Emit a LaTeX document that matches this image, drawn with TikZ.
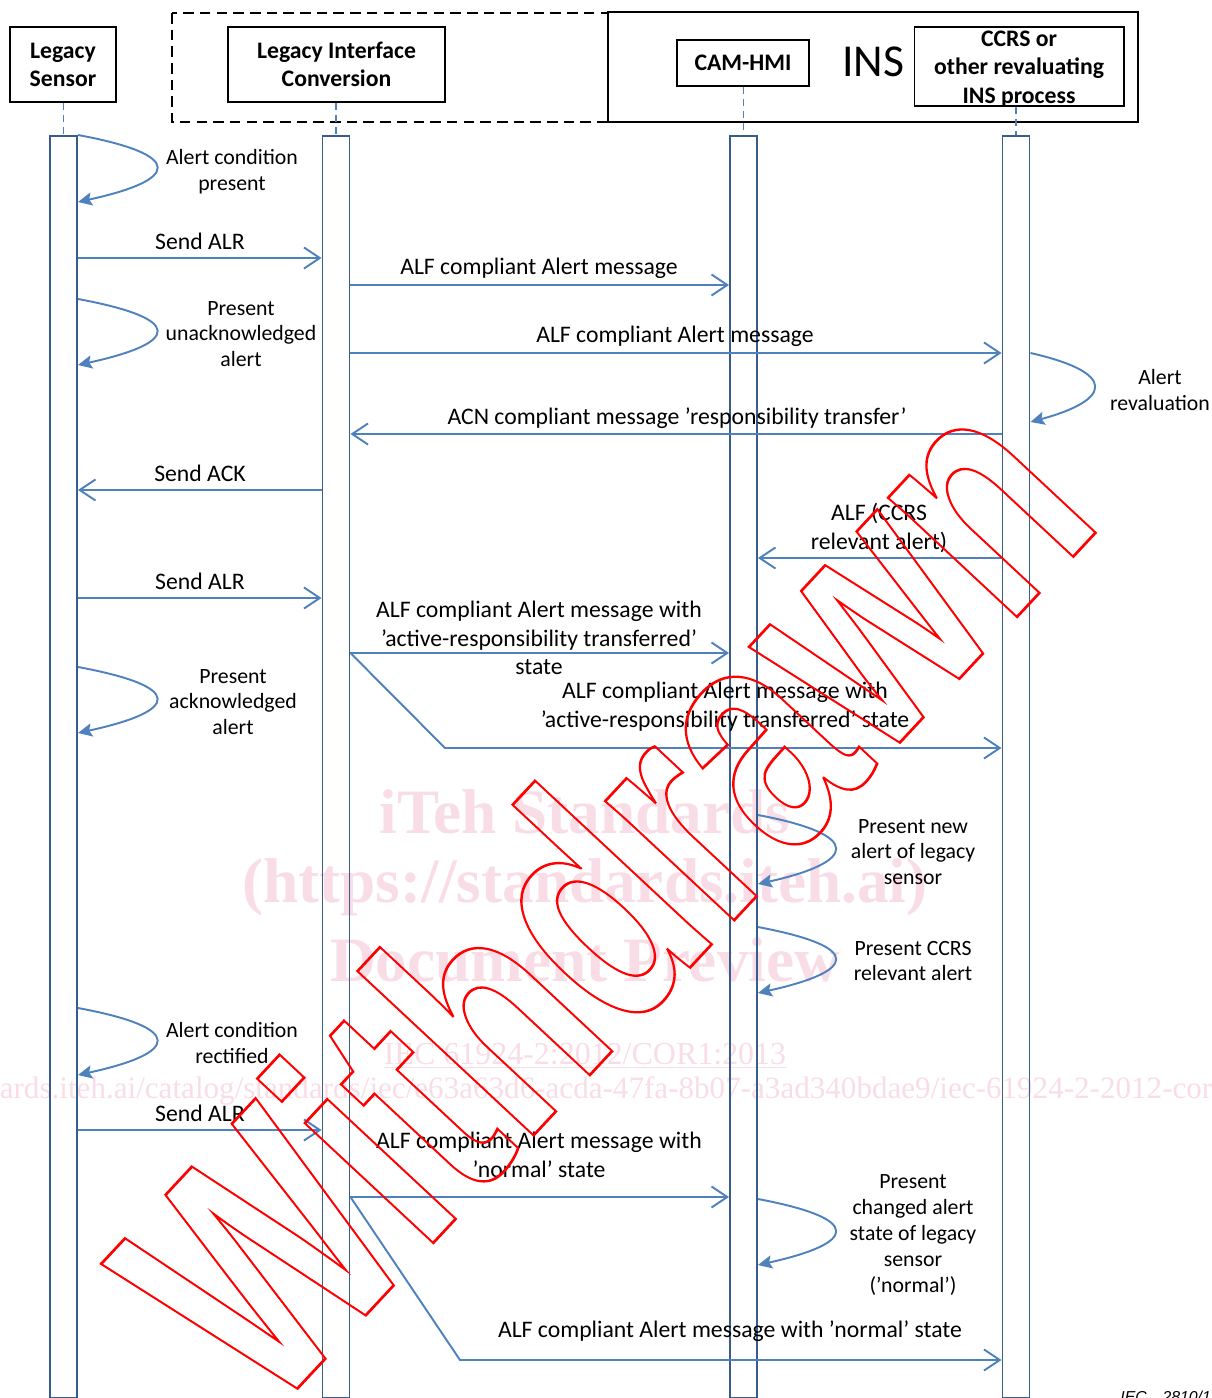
\documentclass[tikz,border=0pt]{standalone}
\usepackage{fontspec}
\setmainfont{Carlito}
\newfontfamily\wmserif{Liberation Serif}
\newfontfamily\wmsans{Liberation Sans}
\usetikzlibrary{arrows.meta}
\definecolor{msgblue}{RGB}{79,129,189}
\definecolor{barblue}{RGB}{56,93,138}
\definecolor{wmpink}{RGB}{249,221,230}
\newcommand\outlined[1]{\special{pdf:literal direct 1 Tr 1.1 w}#1\special{pdf:literal direct 0 Tr}}
\tikzset{
  msg/.style={msgblue, line width=1.1pt, -{Straight Barb[length=9pt,width=12pt]}},
  selfmsg/.style={msgblue, line width=1.1pt, -{Stealth[length=8pt,width=7.5pt,inset=1.5pt]},
    to path={.. controls +(#1,20) and +(#1-7,-22) .. (\tikztotarget)}},
  selfmsg/.default=108,
  bar/.style={draw=barblue, line width=1.1pt, minimum width=0.54cm,
    minimum height=25.24cm, anchor=north, inner sep=0pt},
  head/.style={draw=black, line width=0.6pt, align=center, inner sep=0pt,
    font=\bfseries\fontsize{13.5}{16}\selectfont},
  lifeline/.style={msgblue, line width=1pt, dash pattern=on 4pt off 3pt},
  lbl/.style={align=center, inner sep=0pt, font=\fontsize{13.5}{16.4}\selectfont},
  looplbl/.style={align=center, inner sep=0pt, font=\fontsize{12.4}{14.7}\selectfont},
  wmbig/.style={text=wmpink, inner sep=0pt, font=\wmserif\bfseries\fontsize{36}{36}\selectfont}
}
\begin{document}
\begin{tikzpicture}[x=0.02cm,y=-0.02cm]
    \useasboundingbox (0,0) rectangle (1211,1398);

    \node[wmbig] (wm1) at (585,812) {iTeh Standards};
    \node[wmbig] (wm2) at (585,887) {(https://standards.iteh.ai)};
    \node[wmbig] (wm3) at (585,960) {Document Preview};
    \node[text=wmpink, inner sep=0pt, font=\wmserif\fontsize{18.2}{18}\selectfont] (wm4) at (585,1056) {\underline{IEC 61924-2:2012/COR1:2013}};
    \node[text=wmpink, inner sep=0pt, font=\wmserif\fontsize{17.7}{18}\selectfont] (wm5) at (574,1091) {https://standards.iteh.ai/catalog/standards/iec/e63a63d6-acda-47fa-8b07-a3ad340bdae9/iec-61924-2-2012-cor1-2013};

    \draw[line width=1.1pt, dash pattern=on 6pt off 3.5pt] (172,13) rectangle (608,122);
    \draw[line width=1.3pt] (608,12) rectangle (1138,122);
    \node[font=\fontsize{26}{28}\selectfont, inner sep=0pt] (ins) at (873,62) {INS};

    \node[head, minimum width=2.12cm, minimum height=1.5cm] (lshead) at (63,64.5) {Legacy\\Sensor};
    \node[head, minimum width=4.34cm, minimum height=1.5cm] (lichead) at (336.5,64.5) {Legacy Interface\\Conversion};
    \node[head, minimum width=2.64cm, minimum height=0.92cm] (camhead) at (743,63) {CAM-HMI};
    \node[head, minimum width=4.2cm, minimum height=1.58cm] (ccrshead) at (1019,66.5) {};
    \node[head, draw=none, font=\bfseries\fontsize{13.5}{16.4}\selectfont] (ccrstext) at (1019,69) {CCRS or\\other revaluating\\INS process};

    \node[bar] (lsbar) at (63.5,135) {};
    \node[bar] (licbar) at (336,135) {};
    \node[bar] (cambar) at (743.5,135) {};
    \node[bar] (ccrsbar) at (1016,135) {};

    \draw[lifeline] (lshead.south -| lsbar.north) -- (lsbar.north);
    \draw[lifeline] (lichead.south -| licbar.north) -- (licbar.north);
    \draw[lifeline] (camhead.south -| cambar.north) -- (cambar.north);
    \draw[lifeline] (ccrshead.south -| ccrsbar.north) -- (ccrsbar.north);

    \draw[selfmsg] (lsbar.east |- 0,135) to (lsbar.east |- 0,202);
    \draw[msg] (lsbar.east |- 0,258) -- (licbar.west |- 0,258);
    \draw[msg] (licbar.east |- 0,285) -- (cambar.west |- 0,285);
    \draw[selfmsg] (lsbar.east |- 0,299) to (lsbar.east |- 0,365);
    \draw[msg] (licbar.east |- 0,353) -- (ccrsbar.west |- 0,353);
    \draw[selfmsg=88] (ccrsbar.east |- 0,353) to (ccrsbar.east |- 0,422);
    \draw[msg] (ccrsbar.west |- 0,434) -- (licbar.east |- 0,434);
    \draw[msg] (licbar.west |- 0,490) -- (lsbar.east |- 0,490);
    \draw[msg] (ccrsbar.west |- 0,558) -- (cambar.east |- 0,558);
    \draw[msg] (lsbar.east |- 0,598) -- (licbar.west |- 0,598);
    \draw[msg] (licbar.east |- 0,653) -- (cambar.west |- 0,653);
    \draw[msg] (licbar.east |- 0,653) -- (445,748) -- (ccrsbar.west |- 0,748);
    \draw[selfmsg] (lsbar.east |- 0,667) to (lsbar.east |- 0,733);
    \draw[selfmsg=106] (cambar.east |- 0,815) to (cambar.east |- 0,884);
    \draw[selfmsg=106] (cambar.east |- 0,927) to (cambar.east |- 0,993);
    \draw[selfmsg] (lsbar.east |- 0,1008) to (lsbar.east |- 0,1075);
    \draw[msg] (lsbar.east |- 0,1130) -- (licbar.west |- 0,1130);
    \draw[msg] (licbar.east |- 0,1197) -- (cambar.west |- 0,1197);
    \draw[msg] (licbar.east |- 0,1197) -- (460,1360) -- (ccrsbar.west |- 0,1360);
    \draw[selfmsg=106] (cambar.east |- 0,1199) to (cambar.east |- 0,1265);

    \node[looplbl] (l1) at (232,172) {Alert condition\\present};
    \node[lbl] (l2) at (200,241) {Send ALR};
    \node[lbl] (l3) at (539,268) {ALF compliant Alert message};
    \node[looplbl] (l4) at (241,334) {Present\\unacknowledged\\alert};
    \node[lbl] (l5) at (675,336) {ALF compliant Alert message};
    \node[looplbl] (l6) at (1160,390) {Alert\\revaluation};
    \node[lbl] (l7) at (677,418) {ACN compliant message ’responsibility transfer’};
    \node[lbl] (l8) at (200,473) {Send ACK};
    \node[lbl] (l9) at (879,528) {ALF (CCRS\\relevant alert)};
    \node[lbl] (l10) at (200,581) {Send ALR};
    \node[lbl] (l11) at (539,638) {ALF compliant Alert message with\\’active-responsibility transferred’\\state};
    \node[lbl] (l12) at (725,707) {ALF compliant Alert message with\\’active-responsibility transferred’ state};
    \node[looplbl] (l13) at (233,702) {Present\\acknowledged\\alert};
    \node[looplbl] (l14) at (913,852) {Present new\\alert of legacy\\sensor};
    \node[looplbl] (l15) at (913,961) {Present CCRS\\relevant alert};
    \node[looplbl] (l16) at (232,1043) {Alert condition\\rectified};
    \node[lbl] (l17) at (200,1113) {Send ALR};
    \node[lbl] (l18) at (539,1155) {ALF compliant Alert message with\\’normal’ state};
    \node[lbl] (l19) at (730,1331) {ALF compliant Alert message with ’normal’ state};
    \node[looplbl] (l20) at (913,1235) {Present\\changed alert\\state of legacy\\sensor\\(’normal’)};

    \node[anchor=north west, inner sep=0pt, font=\wmsans\itshape\fontsize{9}{9}\selectfont] (iecref) at (1120,1391) {IEC\quad 2810/12};

    \node[rotate=47, yscale=1.38, text=red, inner sep=0pt, font=\wmsans\bfseries\fontsize{137}{137}\selectfont] (withdrawn) at (600,890) {\outlined{Withdrawn}};
\end{tikzpicture}
\end{document}
